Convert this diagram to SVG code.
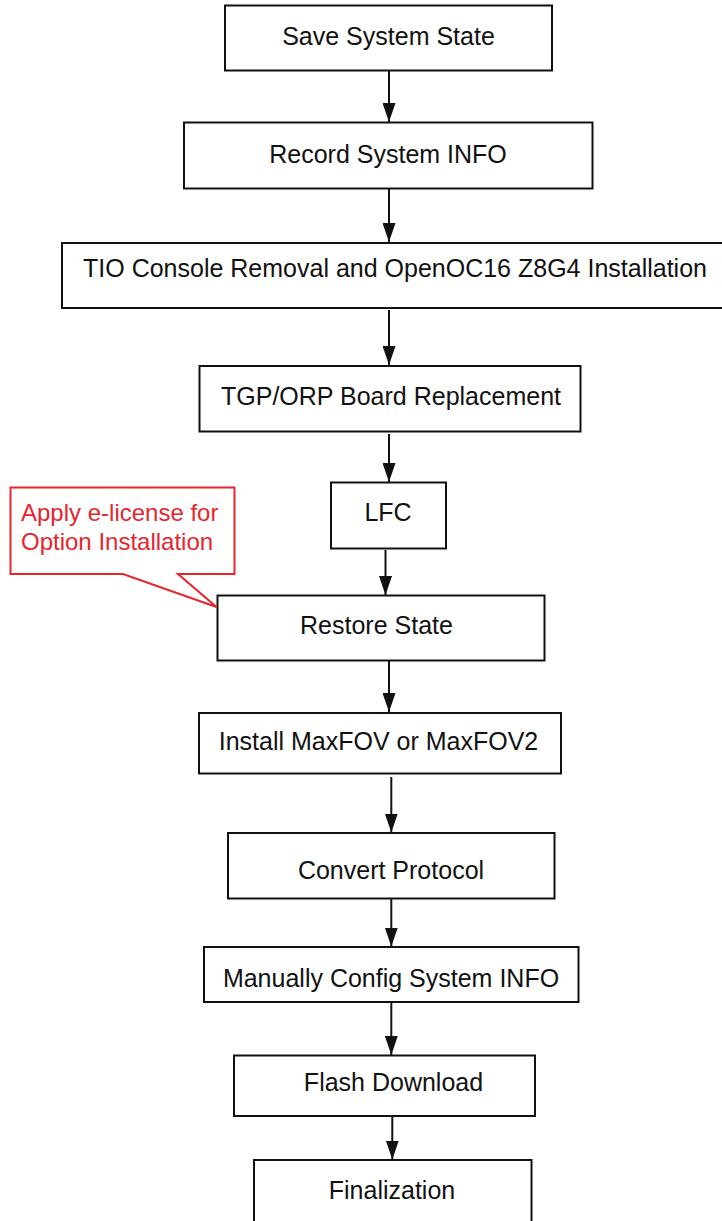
<svg xmlns="http://www.w3.org/2000/svg" width="722" height="1221" viewBox="0 0 722 1221">
<defs>
<style>
.box{fill:#fff;stroke:#111;stroke-width:2}
.lbl{font-family:"Liberation Sans",Arial,sans-serif;font-size:25px;fill:#111;text-anchor:middle}
.conn{stroke:#111;stroke-width:2;fill:none}
.note{fill:#fff;stroke:#e8252d;stroke-width:2}
.notetxt{font-family:"Liberation Sans",Arial,sans-serif;font-size:24px;fill:#e8252d}
</style>
<marker id="arr" markerUnits="userSpaceOnUse" markerWidth="20" markerHeight="13" refX="19" refY="6.5" orient="auto">
<path d="M0,0 L19,6.5 L0,13 Z" fill="#111"/>
</marker>
</defs>
<rect width="722" height="1221" fill="#fff"/>
<g id="connectors">
<line class="conn" x1="389" y1="71" x2="389" y2="122" marker-end="url(#arr)"/>
<line class="conn" x1="389" y1="189" x2="389" y2="242" marker-end="url(#arr)"/>
<line class="conn" x1="389" y1="310" x2="389" y2="365" marker-end="url(#arr)"/>
<line class="conn" x1="389" y1="434" x2="389" y2="482" marker-end="url(#arr)"/>
<line class="conn" x1="385.5" y1="550" x2="385.5" y2="595" marker-end="url(#arr)"/>
<line class="conn" x1="389" y1="661" x2="389" y2="712" marker-end="url(#arr)"/>
<line class="conn" x1="391.3" y1="777" x2="391.3" y2="832.5" marker-end="url(#arr)"/>
<line class="conn" x1="391.3" y1="899" x2="391.3" y2="946.5" marker-end="url(#arr)"/>
<line class="conn" x1="391.3" y1="1002" x2="391.3" y2="1055" marker-end="url(#arr)"/>
<line class="conn" x1="392.3" y1="1116" x2="392.3" y2="1159.5" marker-end="url(#arr)"/>
</g>
<g id="n1"><rect class="box" x="225" y="5.5" width="327" height="65"/><text class="lbl" x="388.5" y="44.5">Save System State</text></g>
<g id="n2"><rect class="box" x="184" y="122.5" width="408.5" height="66"/><text class="lbl" x="388" y="162.5">Record System INFO</text></g>
<g id="n3"><rect class="box" x="62" y="243" width="670" height="65"/><text class="lbl" x="395" y="277">TIO Console Removal and OpenOC16 Z8G4 Installation</text></g>
<g id="n4"><rect class="box" x="199.5" y="366" width="381" height="65.5"/><text class="lbl" x="391" y="405">TGP/ORP Board Replacement</text></g>
<g id="n5"><rect class="box" x="331" y="482.5" width="115" height="66"/><text class="lbl" x="388" y="521">LFC</text></g>
<g id="n6"><rect class="box" x="217.5" y="595.5" width="327" height="65"/><text class="lbl" x="376.5" y="634">Restore State</text></g>
<g id="n7"><rect class="box" x="199" y="713" width="362" height="60.5"/><text class="lbl" x="378.5" y="749.5">Install MaxFOV or MaxFOV2</text></g>
<g id="n8"><rect class="box" x="228" y="833" width="326.5" height="65.5"/><text class="lbl" x="391" y="879">Convert Protocol</text></g>
<g id="n9"><rect class="box" x="204" y="947" width="374.5" height="55"/><text class="lbl" x="391" y="986.5">Manually Config System INFO</text></g>
<g id="n10"><rect class="box" x="234" y="1055.5" width="301" height="60.5"/><text class="lbl" x="393.5" y="1091">Flash Download</text></g>
<g id="n11"><rect class="box" x="254" y="1160" width="277.5" height="70"/><text class="lbl" x="392" y="1199">Finalization</text></g>
<g id="callout">
<path class="note" d="M10.5,487.5 H234.5 V574 H178 L216.5,607 L123,574 H10.5 Z"/>
<text class="notetxt" x="21" y="520.5">Apply e-license for</text>
<text class="notetxt" x="21" y="550">Option Installation</text>
</g>
</svg>
